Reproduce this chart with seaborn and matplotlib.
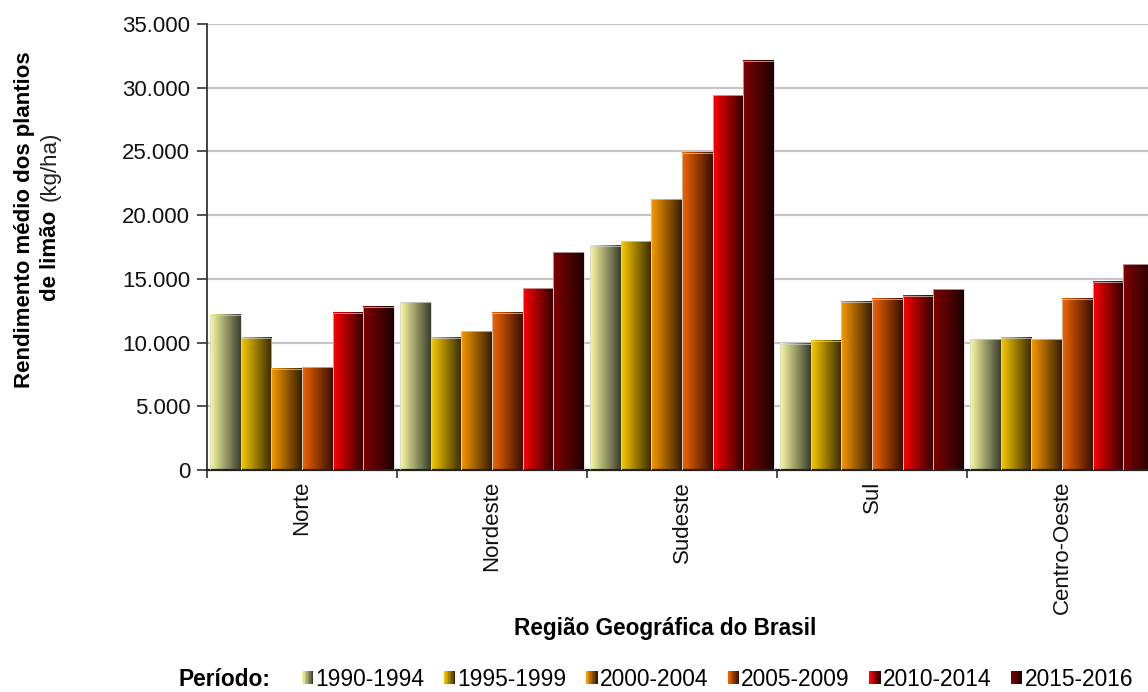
import numpy as np
import pandas as pd
import matplotlib
matplotlib.use("Agg")
import matplotlib.pyplot as plt
import seaborn as sns
from matplotlib.colors import LinearSegmentedColormap
from matplotlib.legend_handler import HandlerBase
from matplotlib.patches import Rectangle
from matplotlib.ticker import FuncFormatter, MultipleLocator, FixedLocator

regioes = ["Norte", "Nordeste", "Sudeste", "Sul", "Centro-Oeste"]
periodos = ["1990-1994", "1995-1999", "2000-2004", "2005-2009", "2010-2014", "2015-2016"]

# rendimento medio (kg/ha) por regiao, um array por periodo
rend_1990_1994 = [12200, 13180, 17580, 9890, 10250]
rend_1995_1999 = [10380, 10380, 17950, 10150, 10380]
rend_2000_2004 = [7930, 10880, 21240, 13210, 10250]
rend_2005_2009 = [8060, 12350, 24900, 13420, 13420]
rend_2010_2014 = [12350, 14280, 29400, 13680, 14780]
rend_2015_2016 = [12820, 17080, 32120, 14180, 16140]

series = [rend_1990_1994, rend_1995_1999, rend_2000_2004,
          rend_2005_2009, rend_2010_2014, rend_2015_2016]

# cores do degrade (esquerda -> direita) de cada periodo
grad_colors = {
    "1990-1994": ("#fafaa2", "#3a3e2e"),
    "1995-1999": ("#f8ca00", "#382a00"),
    "2000-2004": ("#f89a00", "#3a1e00"),
    "2005-2009": ("#f26400", "#3a1000"),
    "2010-2014": ("#ff0000", "#2e0000"),
    "2015-2016": ("#800000", "#1e0000"),
}

df = pd.DataFrame({
    "Região": regioes * len(periodos),
    "Período": np.repeat(periodos, len(regioes)),
    "Rendimento": np.concatenate(series),
})

plt.rcParams["font.family"] = ["Liberation Sans", "DejaVu Sans"]

fig = plt.figure(figsize=(11.48, 6.92), dpi=100)
ax = fig.add_axes([207 / 1148, 1 - 470 / 692, 950 / 1148, 446 / 692])

palette = {p: grad_colors[p][0] for p in periodos}
sns.barplot(data=df, x="Região", y="Rendimento", hue="Período", palette=palette,
            width=0.965, gap=0, ax=ax, legend=False, saturation=1, errorbar=None)

grad = np.linspace(0, 1, 64).reshape(1, -1)
for cont, p in zip(ax.containers, periodos):
    cmap = LinearSegmentedColormap.from_list(p, grad_colors[p])
    for bar in cont:
        x0, w, h = bar.get_x(), bar.get_width(), bar.get_height()
        ax.imshow(grad, extent=[x0, x0 + w, 0, h], aspect="auto", cmap=cmap,
                  zorder=2, interpolation="bilinear")
        bar.set_facecolor("none")
        bar.set_edgecolor("#d0d0d0")
        bar.set_linewidth(0.5)
        bar.set_zorder(3)

ax.set_xlim(-0.5, 4.5)
ax.set_ylim(0, 35000)
ax.set_aspect("auto")

ax.yaxis.set_major_locator(MultipleLocator(5000))
ax.yaxis.set_major_formatter(FuncFormatter(lambda v, pos: f"{int(v):,}".replace(",", ".")))
ax.yaxis.grid(True, color="#c4c4c4", linewidth=1.6)
ax.set_axisbelow(True)

ax.xaxis.set_minor_locator(FixedLocator(np.arange(-0.5, 5.0, 1.0)))
ax.tick_params(axis="x", which="major", length=0, pad=8, labelsize=16, labelcolor="#111111")
ax.tick_params(axis="x", which="minor", length=6, width=1.2, color="#333333")
ax.tick_params(axis="y", length=7, width=1.2, color="#333333", labelsize=16,
               labelcolor="#111111", pad=5)
for lbl in ax.get_xticklabels():
    lbl.set_rotation(90)
    lbl.set_va("top")
    lbl.set_ha("center")

for s in ["top", "right"]:
    ax.spines[s].set_visible(False)
ax.spines["left"].set_color("#333333")
ax.spines["left"].set_linewidth(1.3)
ax.spines["bottom"].set_color("#222222")
ax.spines["bottom"].set_linewidth(1.6)

ax.set_xlabel("")
ax.set_ylabel("")

fig.text(665 / 1148, 1 - 628 / 692, "Região Geográfica do Brasil",
         ha="center", va="center", fontsize=16.3, fontweight="bold")

fig.text(25 / 1148, 1 - 220 / 692, "Rendimento médio dos plantios", rotation=90,
         ha="center", va="center", fontsize=16, fontweight="bold")
fig.text(50 / 1148, 1 - 256 / 692, "de limão", rotation=90,
         ha="center", va="center", fontsize=16, fontweight="bold")
fig.text(50 / 1148, 1 - 166 / 692, "(kg/ha)", rotation=90,
         ha="center", va="center", fontsize=16, color="#222222")


class GradientHandler(HandlerBase):
    def __init__(self, colors):
        super().__init__()
        self.colors = colors

    def create_artists(self, legend, orig_handle, xdescent, ydescent, width, height,
                       fontsize, trans):
        cmap = LinearSegmentedColormap.from_list("g", self.colors[orig_handle.get_label()])
        n = 8
        arts = []
        for i in range(n):
            r = Rectangle((-xdescent + i * width / n, -ydescent), width / n, height,
                          facecolor=cmap(i / (n - 1)), edgecolor="none", transform=trans)
            arts.append(r)
        return arts


handles = [Rectangle((0, 0), 1, 1, label=p) for p in periodos]
fig.text(178 / 1148, 1 - 679 / 692, "Período:", ha="left", va="center",
         fontsize=16.4, fontweight="bold")
fig.legend(handles=handles, labels=periodos, loc="center left",
           bbox_to_anchor=(302 / 1148, 1 - 679 / 692), ncol=6, frameon=False,
           fontsize=16.4, handlelength=0.5, handleheight=0.45, handletextpad=0.1,
           columnspacing=0.85, borderpad=0, borderaxespad=0,
           handler_map={Rectangle: GradientHandler(grad_colors)})

fig.savefig("out.png", dpi=100)
